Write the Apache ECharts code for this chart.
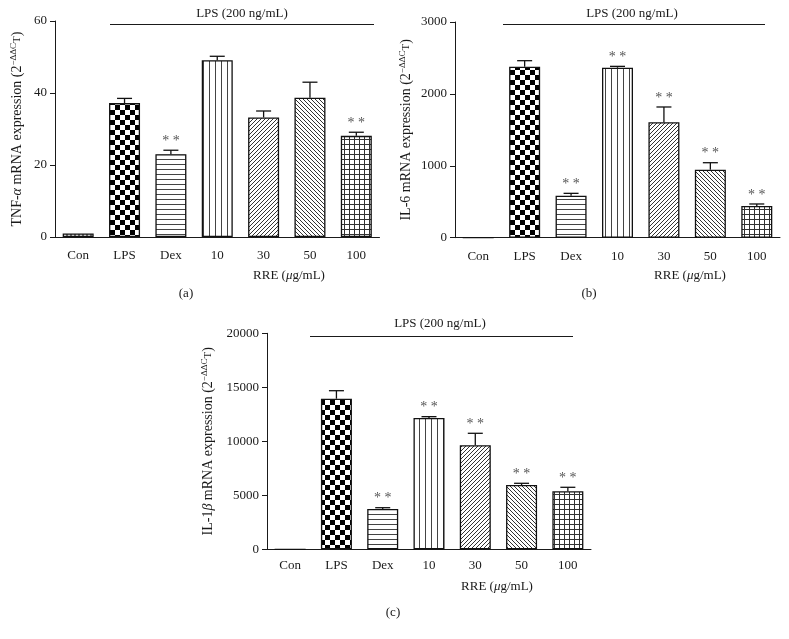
<!DOCTYPE html>
<html><head><meta charset="utf-8">
<script src="https://cdn.jsdelivr.net/npm/echarts@6/dist/echarts.min.js"></script>
<style>html,body{margin:0;padding:0;background:#fff}#c{width:789px;height:639px}</style>
</head><body><div id="c"></div>
<script>
// ---------- data ----------
const categories = ['Con', 'LPS', 'Dex', '10', '30', '50', '100'];

const tnfMean = [1.0, 37.2, 23.0, 49.1, 33.2, 38.7, 28.1];
const tnfErr  = [0, 1.3, 1.1, 1.1, 1.8, 4.3, 1.0];
const tnfSig  = ['', '', '**', '', '', '', '**'];

const il6Mean = [0, 2378, 584, 2364, 1605, 946, 441];
const il6Err  = [0, 84, 33, 19, 213, 97, 28];
const il6Sig  = ['', '', '**', '**', '**', '**', '**'];

const il1Mean = [0, 13944, 3731, 12157, 9630, 5954, 5370];
const il1Err  = [0, 741, 121, 123, 1111, 157, 371];
const il1Sig  = ['', '', '**', '**', '**', '**', '**'];

const tnfTicks = [0, 20, 40, 60];
const il6Ticks = [0, 1000, 2000, 3000];
const il1Ticks = [0, 5000, 10000, 15000, 20000];

const lpsText = 'LPS (200 ng/mL)';
const panelLetters = ['(a)', '(b)', '(c)'];

// ---------- patterns ----------
const FONT = '"Liberation Serif", "Times New Roman", serif';
function pat(w, h, draw) {
  const c = document.createElement('canvas');
  c.width = w; c.height = h;
  const g = c.getContext('2d');
  g.fillStyle = '#fff'; g.fillRect(0, 0, w, h);
  draw(g, w, h);
  return { image: c, repeat: 'repeat' };
}
const patterns = [
  pat(4, 4, (g) => { g.fillStyle = '#777'; g.fillRect(0, 0, 2, 2); g.fillRect(2, 2, 2, 2); }),
  pat(10, 10, (g) => { g.fillStyle = '#000'; g.fillRect(0, 0, 5, 5); g.fillRect(5, 5, 5, 5); }),
  pat(4, 5, (g) => { g.fillStyle = '#444'; g.fillRect(0, 4, 4, 1); }),
  pat(6, 4, (g) => { g.fillStyle = '#444'; g.fillRect(5, 0, 1, 4); }),
  pat(4, 4, (g) => { g.fillStyle = '#333'; for (let i = 0; i < 4; i++) g.fillRect(i, 3 - i, 1, 1); }),
  pat(4, 4, (g) => { g.fillStyle = '#333'; for (let i = 0; i < 4; i++) g.fillRect(i, i, 1, 1); }),
  pat(5, 5, (g) => { g.fillStyle = '#333'; g.fillRect(0, 4, 5, 1); g.fillRect(4, 0, 1, 5); })
];

// ---------- layout ----------
const grids = [
  { left: 55, top: 21, width: 324.5, height: 216 },
  { left: 455, top: 22, width: 325, height: 215.7 },
  { left: 267, top: 333.3, width: 324, height: 216 }
];
const panels = [
  { mean: tnfMean, err: tnfErr, sig: tnfSig, ticks: tnfTicks,
    name: 'TNF-{it|α} mRNA expression (2{sup|−ΔΔC}{t|T})', gap: 29, lblMargin: 12 },
  { mean: il6Mean, err: il6Err, sig: il6Sig, ticks: il6Ticks,
    name: 'IL-6 mRNA expression (2{sup|−ΔΔC}{t|T})', gap: 40, lblMargin: 12 },
  { mean: il1Mean, err: il1Err, sig: il1Sig, ticks: il1Ticks,
    name: 'IL-1{it|β} mRNA expression (2{sup|−ΔΔC}{t|T})', gap: 50, lblMargin: 10 }
];

const INK = '#1a1a1a';
const axisLine = { lineStyle: { color: INK, width: 1 } };
const xAxes = [], yAxes = [], series = [];
panels.forEach((p, k) => {
  xAxes.push({
    type: 'category', gridIndex: k, data: categories,
    axisLine: axisLine,
    axisTick: { alignWithLabel: true, length: 5, lineStyle: { color: INK } },
    axisLabel: { color: INK, fontFamily: FONT, fontSize: 13, margin: p.lblMargin }
  });
  const t = p.ticks;
  yAxes.push({
    type: 'value', gridIndex: k, min: t[0], max: t[t.length - 1], interval: t[1] - t[0],
    axisLine: Object.assign({ show: true }, axisLine),
    axisTick: { show: true, length: 5, lineStyle: { color: INK } },
    splitLine: { show: false },
    axisLabel: { color: INK, fontFamily: FONT, fontSize: 13, margin: 8,
      formatter: (v) => String(v) },
    name: p.name, nameLocation: 'middle', nameGap: p.gap,
    nameTextStyle: {
      color: INK, fontFamily: FONT, fontSize: 14, lineHeight: 17,
      rich: {
        it: { fontFamily: FONT, fontSize: 14, fontStyle: 'italic', color: INK },
        sup: { fontFamily: FONT, fontSize: 9, color: INK, verticalAlign: 'top', lineHeight: 17 },
        t: { fontFamily: FONT, fontSize: 11, color: INK }
      }
    }
  });
  series.push({
    type: 'bar', xAxisIndex: k, yAxisIndex: k, barWidth: 31,
    data: p.mean.map((v, i) => ({
      value: v,
      itemStyle: { color: patterns[i], borderColor: '#111', borderWidth: 1.3 }
    })),
    silent: true, animation: false
  });
  series.push({
    type: 'custom', xAxisIndex: k, yAxisIndex: k, z: 5, animation: false,
    data: p.mean.map((v, i) => [i, v, v + p.err[i]]),
    renderItem: function (params, api) {
      const i = params.dataIndex;
      const base = api.coord([api.value(0), api.value(1)]);
      const top = api.coord([api.value(0), api.value(2)]);
      const children = [];
      if (p.err[i] > 0) {
        children.push({ type: 'line', shape: { x1: base[0], y1: base[1], x2: top[0], y2: top[1] },
          style: { stroke: '#111', lineWidth: 1.3 } });
        children.push({ type: 'line', shape: { x1: top[0] - 7.5, y1: top[1], x2: top[0] + 7.5, y2: top[1] },
          style: { stroke: '#111', lineWidth: 1.3 } });
      }
      if (p.sig[i]) {
        children.push({ type: 'text', style: {
          x: top[0], y: top[1] - 2, text: p.sig[i].split('').join(' '),
          fill: '#555', font: '14px ' + FONT, align: 'center', verticalAlign: 'bottom' } });
      }
      return { type: 'group', children: children };
    }
  });
});

function txt(x, y, text) {
  return { type: 'text', x: x, y: y, style: {
    text: text, fill: INK, font: '13px ' + FONT, align: 'center', verticalAlign: 'middle',
    rich: { it: { fontStyle: 'italic', fontFamily: FONT, fontSize: 13, fill: INK } } } };
}
function hline(x1, x2, y) {
  return { type: 'line', shape: { x1: x1, y1: y, x2: x2, y2: y }, style: { stroke: INK, lineWidth: 1 } };
}

const graphic = [
  txt(242, 14, lpsText), hline(110, 374, 24.5),
  txt(632, 14, lpsText), hline(503, 765, 24.5),
  txt(440, 324, lpsText), hline(310, 573, 336.5),
  txt(289, 276, 'RRE ({it|μ}g/mL)'),
  txt(690, 276, 'RRE ({it|μ}g/mL)'),
  txt(497, 587, 'RRE ({it|μ}g/mL)'),
  txt(186, 294, panelLetters[0]),
  txt(589, 294, panelLetters[1]),
  txt(393, 613, panelLetters[2])
];

const chart = echarts.init(document.getElementById('c'), null, { renderer: 'canvas' });
chart.setOption({
  backgroundColor: '#fff',
  animation: false,
  grid: grids,
  xAxis: xAxes,
  yAxis: yAxes,
  series: series,
  graphic: graphic
});
</script>
</body></html>
